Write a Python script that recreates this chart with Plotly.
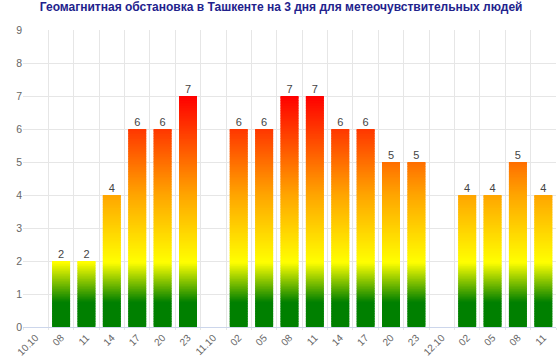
import plotly.graph_objects as go

categories = ["10.10", "08", "11", "14", "17", "20", "23", "11.10", "02", "05", "08 ",
              "11 ", "14 ", "17 ", "20 ", "23 ", "12.10", "02 ", "05 ", "08  ", "11  "]
tick_text = ["10.10", "08", "11", "14", "17", "20", "23", "11.10", "02", "05", "08",
             "11", "14", "17", "20", "23", "12.10", "02", "05", "08", "11"]
values = [0, 2, 2, 4, 6, 6, 7, 0, 6, 6, 7, 7, 6, 6, 5, 5, 0, 4, 4, 5, 4]
labels = ["", "2", "2", "4", "6", "6", "7", "", "6", "6", "7", "7", "6", "6", "5", "5", "", "4", "4", "5", "4"]

# gradient by absolute level: build thin slices of each bar from the values
dy = 0.05
xs, bases, hs, cs = [], [], [], []
for cat, v in zip(categories, values):
    n = int(round(v / dy))
    for k in range(n):
        b = k * dy
        top = min(v, b + dy * 1.6)
        xs.append(cat)
        bases.append(b)
        hs.append(top - b)
        cs.append(b + dy / 2)

colorscale = [
    [0.0, "rgb(0,128,0)"],
    [0.75 / 7, "rgb(0,128,0)"],
    [1.95 / 7, "rgb(255,255,0)"],
    [4.0 / 7, "rgb(255,165,0)"],
    [1.0, "rgb(255,0,0)"],
]

fig = go.Figure()
fig.add_trace(go.Bar(
    x=xs, y=hs, base=bases,
    marker=dict(color=cs, colorscale=colorscale, cmin=0, cmax=7, line=dict(width=0)),
    width=0.71, hoverinfo="skip", showlegend=False,
))
fig.add_trace(go.Scatter(
    x=categories, y=values, mode="text", text=labels, textposition="top center",
    textfont=dict(size=11, color="#444", family="Liberation Sans, Arial"),
    showlegend=False, hoverinfo="skip", cliponaxis=False,
))

fig.update_layout(
    width=560, height=356,
    margin=dict(l=23, r=4, t=30, b=29),
    barmode="overlay",
    plot_bgcolor="white", paper_bgcolor="white",
    font=dict(family="Liberation Sans, Arial", color="#666", size=11),
    title=dict(
        text="<b>Геомагнитная обстановка в Ташкенте на 3 дня для метеочувствительных людей</b>",
        x=0.502, xanchor="center", y=0.992, yanchor="top",
        font=dict(size=12, color="#22228c", family="Liberation Sans, Arial"),
    ),
    xaxis=dict(
        type="category", categoryorder="array", categoryarray=categories,
        tickmode="array", tickvals=categories, ticktext=tick_text,
        tickson="boundaries", showgrid=True, gridcolor="#e6e6e6",
        ticks="outside", ticklen=2, tickcolor="#e6e6e6",
        tickangle=-45, tickfont=dict(size=10, color="#666"),
        showline=True, linecolor="#ccd6eb", range=[-0.5, 20.5],
        automargin=False,
    ),
    yaxis=dict(
        range=[0, 9], dtick=1, showgrid=True, gridcolor="#e6e6e6",
        zeroline=False, tickfont=dict(size=10.5, color="#666"), ticks="",
        automargin=False,
    ),
)

fig.write_html("out.html", config={"displayModeBar": False},
               post_script="document.body.style.margin='0';")
